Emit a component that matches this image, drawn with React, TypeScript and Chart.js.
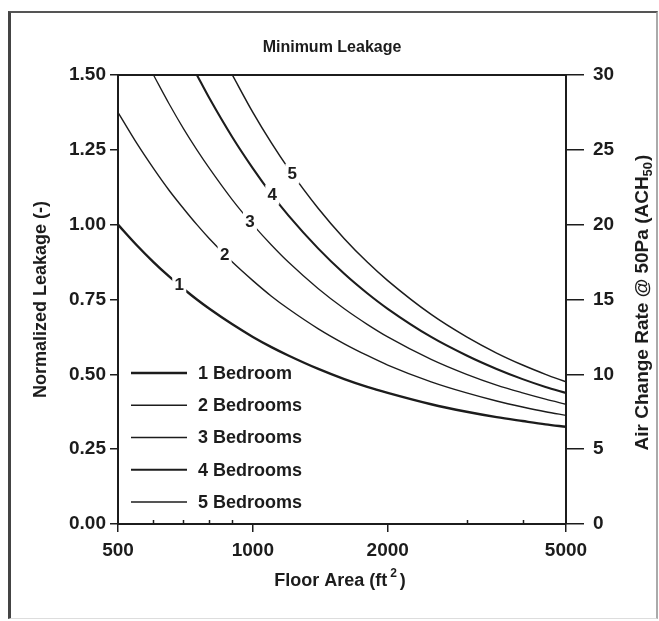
import React, { useEffect, useRef } from "react";
import { Chart, registerables } from "chart.js";
Chart.register(...registerables);

// ---- data ----
const floorArea = [500, 550, 600, 650, 700, 750, 800, 900, 1000, 1100, 1200, 1400, 1600, 1800, 2000, 2500, 3000, 3500, 4000, 4500, 5000];
const leakage1Bed = [1.0, 0.932, 0.875, 0.827, 0.786, 0.75, 0.719, 0.667, 0.625, 0.591, 0.563, 0.518, 0.484, 0.458, 0.438, 0.4, 0.375, 0.357, 0.344, 0.333, 0.325];
const leakage2Bed = [1.375, 1.273, 1.188, 1.115, 1.054, 1.0, 0.953, 0.875, 0.813, 0.761, 0.719, 0.652, 0.602, 0.563, 0.531, 0.475, 0.438, 0.411, 0.391, 0.375, 0.363];
const leakage3Bed = [null, null, 1.5, 1.404, 1.321, 1.25, 1.188, 1.083, 1.0, 0.932, 0.875, 0.786, 0.719, 0.667, 0.625, 0.55, 0.5, 0.464, 0.438, 0.417, 0.4];
const leakage4Bed = [null, null, null, null, null, 1.5, 1.422, 1.292, 1.188, 1.102, 1.031, 0.92, 0.836, 0.771, 0.719, 0.625, 0.563, 0.518, 0.484, 0.458, 0.438];
const leakage5Bed = [null, null, null, null, null, null, null, 1.5, 1.375, 1.273, 1.188, 1.054, 0.953, 0.875, 0.813, 0.7, 0.625, 0.571, 0.531, 0.5, 0.475];

const seriesNames = ["1 Bedroom", "2 Bedrooms", "3 Bedrooms", "4 Bedrooms", "5 Bedrooms"];
const curveLabels = ["1", "2", "3", "4", "5"];
const curveLabelArea = [685, 865, 985, 1105, 1225];
const curveLabelLeakage = [0.8, 0.9, 1.01, 1.1, 1.17];

const xMajorTicks = [500, 1000, 2000, 5000];
const xMinorTicks = [600, 700, 800, 900, 3000, 4000];
const yTicksLeft = [0, 0.25, 0.5, 0.75, 1.0, 1.25, 1.5];
const yTicksRight = [0, 5, 10, 15, 20, 25, 30];

const chartTitle = "Minimum Leakage";
const xTitleMain = "Floor Area (ft";
const xTitleSup = "2";
const yTitleLeft = "Normalized Leakage (-)";
const yTitleRightMain = "Air Change Rate @ 50Pa (ACH";
const yTitleRightSub = "50";

const INK = "#1c1c1c";
const FONT = "'Liberation Sans', Arial, sans-serif";
const lineWidths = [2.4, 1.4, 1.3, 2.1, 1.5];

const allSeries = [leakage1Bed, leakage2Bed, leakage3Bed, leakage4Bed, leakage5Bed];

const overlayPlugin = {
  id: "overlay",
  afterDatasetsDraw(chart: any) {
    const { ctx, chartArea: ca, scales } = chart;
    const xs = scales.x;
    const ys = scales.y;
    ctx.save();

    // top frame line
    ctx.strokeStyle = INK;
    ctx.lineWidth = 2;
    ctx.beginPath();
    ctx.moveTo(ca.left, ca.top);
    ctx.lineTo(ca.right, ca.top);
    ctx.stroke();

    // minor x ticks (inward)
    ctx.lineWidth = 1.5;
    ctx.beginPath();
    for (const v of xMinorTicks) {
      const px = Math.round(xs.getPixelForValue(v)) + 0.5;
      ctx.moveTo(px, ca.bottom);
      ctx.lineTo(px, ca.bottom - 4);
    }
    ctx.stroke();

    // curve labels
    ctx.font = `bold 17px ${FONT}`;
    ctx.textAlign = "center";
    ctx.textBaseline = "middle";
    curveLabels.forEach((t, i) => {
      const px = xs.getPixelForValue(curveLabelArea[i]);
      const py = ys.getPixelForValue(curveLabelLeakage[i]);
      ctx.fillStyle = "#ffffff";
      ctx.fillRect(px - 7, py - 10, 14, 20);
      ctx.fillStyle = INK;
      ctx.fillText(t, px, py + 1);
    });

    // legend inside bottom-left
    ctx.textAlign = "left";
    ctx.font = `bold 18px ${FONT}`;
    seriesNames.forEach((name, i) => {
      const yy = ca.bottom - 151 + i * 32.25;
      ctx.strokeStyle = INK;
      ctx.lineWidth = lineWidths[i];
      ctx.beginPath();
      ctx.moveTo(ca.left + 13, yy);
      ctx.lineTo(ca.left + 69, yy);
      ctx.stroke();
      ctx.fillStyle = INK;
      ctx.fillText(name, ca.left + 80, yy + 1);
    });

    // chart title
    ctx.textAlign = "center";
    ctx.font = `bold 16px ${FONT}`;
    ctx.fillText(chartTitle, (ca.left + ca.right) / 2 - 10, ca.top - 27);

    // x title with superscript
    ctx.font = `bold 18px ${FONT}`;
    const wMain = ctx.measureText(xTitleMain).width;
    ctx.font = `bold 12px ${FONT}`;
    const wSup = ctx.measureText(xTitleSup).width;
    ctx.font = `bold 18px ${FONT}`;
    const wClose = ctx.measureText(")").width;
    const gap = 3;
    const total = wMain + gap + wSup + gap + wClose;
    let x0 = (ca.left + ca.right) / 2 - 2 - total / 2;
    const yT = ca.bottom + 57;
    ctx.textAlign = "left";
    ctx.fillText(xTitleMain, x0, yT);
    x0 += wMain + gap;
    ctx.font = `bold 12px ${FONT}`;
    ctx.fillText(xTitleSup, x0, yT - 7);
    x0 += wSup + gap;
    ctx.font = `bold 18px ${FONT}`;
    ctx.fillText(")", x0, yT);

    // left y title
    ctx.save();
    ctx.translate(41, (ca.top + ca.bottom) / 2);
    ctx.rotate(-Math.PI / 2);
    ctx.textAlign = "center";
    ctx.font = `bold 18px ${FONT}`;
    ctx.fillText(yTitleLeft, 0, 0);
    ctx.restore();

    // right y title with subscript
    ctx.save();
    ctx.translate(643, (ca.top + ca.bottom) / 2 + 3);
    ctx.rotate(-Math.PI / 2);
    ctx.font = `bold 19px ${FONT}`;
    const rMain = ctx.measureText(yTitleRightMain).width;
    ctx.font = `bold 13px ${FONT}`;
    const rSub = ctx.measureText(yTitleRightSub).width;
    ctx.font = `bold 19px ${FONT}`;
    const rClose = ctx.measureText(")").width;
    const rTotal = rMain + rSub + rClose + 1;
    let r0 = -rTotal / 2;
    ctx.textAlign = "left";
    ctx.fillText(yTitleRightMain, r0, 0);
    r0 += rMain;
    ctx.font = `bold 13px ${FONT}`;
    ctx.fillText(yTitleRightSub, r0, 5);
    r0 += rSub + 1;
    ctx.font = `bold 19px ${FONT}`;
    ctx.fillText(")", r0, 0);
    ctx.restore();

    ctx.restore();
  },
};

export default function App() {
  const canvasRef = useRef<HTMLCanvasElement | null>(null);

  useEffect(() => {
    const canvas = canvasRef.current;
    if (!canvas) return;
    Chart.defaults.font.family = FONT;
    Chart.defaults.color = INK;

    const datasets = allSeries.map((series, i) => ({
      label: seriesNames[i],
      data: floorArea.map((a, j) => ({ x: a, y: series[j] })),
      borderColor: INK,
      backgroundColor: INK,
      borderWidth: lineWidths[i],
      pointRadius: 0,
      fill: false,
      cubicInterpolationMode: "monotone" as const,
      spanGaps: false,
      yAxisID: "y",
    }));

    const chart = new Chart(canvas, {
      type: "line",
      data: { datasets },
      options: {
        responsive: false,
        animation: false,
        devicePixelRatio: 1,
        layout: { padding: { top: 75, left: 0, right: 0, bottom: 0 } },
        plugins: {
          legend: { display: false },
          title: { display: false },
          tooltip: { enabled: false },
        },
        scales: {
          x: {
            type: "logarithmic",
            min: 500,
            max: 5000,
            afterBuildTicks: (scale: any) => {
              scale.ticks = xMajorTicks.map((v) => ({ value: v }));
            },
            afterFit: (scale: any) => {
              scale.height = 97;
            },
            ticks: {
              autoSkip: false,
              maxRotation: 0,
              padding: 7,
              font: { size: 19, weight: "bold" },
              color: INK,
              callback: (v: any) => String(v),
            },
            grid: { drawOnChartArea: false, drawTicks: true, tickLength: 8, color: INK, lineWidth: 1.5 },
            border: { display: true, color: INK, width: 2 },
          },
          y: {
            type: "linear",
            position: "left",
            min: 0,
            max: 1.5,
            afterBuildTicks: (scale: any) => {
              scale.ticks = yTicksLeft.map((v) => ({ value: v }));
            },
            afterFit: (scale: any) => {
              scale.width = 118;
            },
            ticks: {
              padding: 4,
              font: { size: 19, weight: "bold" },
              color: INK,
              callback: (v: any) => Number(v).toFixed(2),
            },
            grid: { drawOnChartArea: false, drawTicks: true, tickLength: 8, color: INK, lineWidth: 1.5 },
            border: { display: true, color: INK, width: 2 },
          },
          y2: {
            type: "linear",
            position: "right",
            min: 0,
            max: 30,
            afterBuildTicks: (scale: any) => {
              scale.ticks = yTicksRight.map((v) => ({ value: v }));
            },
            afterFit: (scale: any) => {
              scale.width = 93;
            },
            ticks: {
              padding: 9,
              font: { size: 19, weight: "bold" },
              color: INK,
              callback: (v: any) => String(v),
            },
            grid: { drawOnChartArea: false, drawTicks: true, tickLength: 18, color: INK, lineWidth: 1.5 },
            border: { display: true, color: INK, width: 2 },
          },
        },
      },
      plugins: [overlayPlugin],
    } as any);

    return () => chart.destroy();
  }, []);

  return (
    <div style={{ position: "fixed", left: 0, top: 0, width: 659, height: 621, background: "#ffffff", overflow: "hidden" }}>
      <div
        style={{
          position: "absolute",
          left: 8,
          top: 11,
          width: 645,
          height: 605,
          borderTop: "2px solid #555",
          borderLeft: "3px solid #444",
          borderRight: "2px solid #aaa",
          borderBottom: "1px solid #ddd",
        }}
      />
      <canvas ref={canvasRef} width={659} height={621} style={{ position: "absolute", left: 0, top: 0, width: 659, height: 621 }} />
    </div>
  );
}
